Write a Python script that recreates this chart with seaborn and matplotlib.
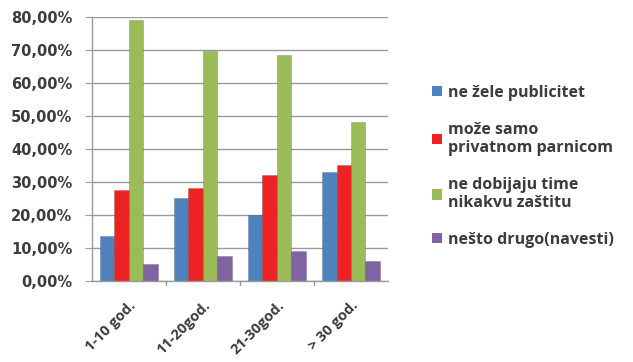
import matplotlib
matplotlib.use("Agg")
import matplotlib.pyplot as plt
from matplotlib.patches import Patch
from matplotlib.ticker import FuncFormatter, MultipleLocator
import seaborn as sns
import pandas as pd

categories = ["1-10 god.", "11-20god.", "21-30god.", "> 30 god."]
series_names = ["ne žele publicitet", "može samo\nprivatnom parnicom",
                "ne dobijaju time\nnikakvu zaštitu", "nešto drugo(navesti)"]
ne_zele = [13.5, 25.0, 20.0, 33.0]
moze_samo = [27.5, 28.0, 32.0, 35.0]
ne_dobijaju = [79.0, 69.5, 68.5, 48.0]
nesto_drugo = [5.0, 7.5, 9.0, 6.0]
colors = ["#4F81BD", "#EE2222", "#9BBB59", "#8064A2"]

values = [ne_zele, moze_samo, ne_dobijaju, nesto_drugo]
rows = []
for name, vals in zip(series_names, values):
    for cat, v in zip(categories, vals):
        rows.append({"kategorija": cat, "serija": name, "udio": v / 100})
df = pd.DataFrame(rows)

sns.set_style("white")
plt.rcParams["font.family"] = ["Open Sans", "DejaVu Sans"]
text_color = "#3c3c3c"

fig = plt.figure(figsize=(6.33, 3.62), dpi=100)
ax = fig.add_axes([0.145, 0.224, 0.468, 0.73])

sns.barplot(data=df, x="kategorija", y="udio", hue="serija",
            palette=colors, order=categories, hue_order=series_names,
            width=0.78, gap=0.0, saturation=1, ax=ax, legend=False)

for bar in ax.patches:
    bar.set_edgecolor((0, 0, 0, 0.18))
    bar.set_linewidth(0.6)

ax.set_ylim(0, 0.8)
ax.yaxis.set_major_locator(MultipleLocator(0.1))
ax.yaxis.set_major_formatter(FuncFormatter(lambda v, _: f"{v*100:.2f}%".replace(".", ",")))
ax.grid(axis="y", color="#9a9a9a", linewidth=1.0)
ax.set_axisbelow(True)
ax.set_xlabel("")
ax.set_ylabel("")

for s in ["top", "right"]:
    ax.spines[s].set_visible(False)
for s in ["left", "bottom"]:
    ax.spines[s].set_color("#9a9a9a")
    ax.spines[s].set_linewidth(1.0)

ax.tick_params(axis="y", left=True, length=5, color="#9a9a9a", pad=9)
for t in ax.get_yticklabels():
    t.set_fontfamily("DejaVu Sans")
    t.set_fontweight("bold")
    t.set_fontsize(10.5)
    t.set_color(text_color)

ax.set_xticks(range(len(categories)))
ax.set_xticklabels(categories, rotation=45, ha="right", rotation_mode="anchor",
                   fontsize=10.5, fontweight="bold", color=text_color)
ax.tick_params(axis="x", bottom=False, pad=9)
for b in [0.5, 1.5, 2.5]:
    ax.plot([b, b], [0, -0.012], color="#9a9a9a", lw=1, clip_on=False)
ax.set_xlim(-0.5, 3.5)

handles = [Patch(facecolor=c, edgecolor="none") for c in colors]
fig.legend(handles, series_names, loc="upper left", bbox_to_anchor=(0.66, 0.805),
           frameon=False, prop={"size": 11.5, "weight": "bold"},
           labelcolor=text_color, handlelength=0.6, handleheight=0.6,
           handletextpad=0.4, labelspacing=1.3)

fig.savefig("out.png", dpi=100, facecolor="white")
